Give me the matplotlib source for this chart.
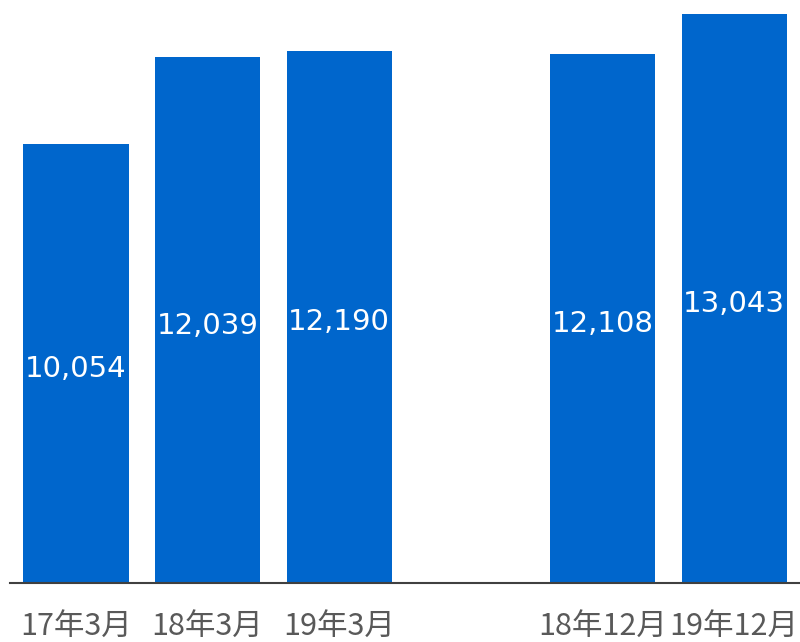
import numpy as np
import matplotlib
matplotlib.use("Agg")
import matplotlib.pyplot as plt

# データ
categories = ['17年3月', '18年3月', '19年3月', '18年12月', '19年12月']
positions = [0, 1, 2, 4, 5]
values = [10054, 12039, 12190, 12108, 13043]

plt.rcParams['font.family'] = ['Noto Sans CJK JP', 'DejaVu Sans']

fig = plt.figure(figsize=(8, 6.42), dpi=100)
ax = fig.add_axes([10 / 800, 59 / 642, 790 / 800, 583 / 642])

bars = ax.bar(positions, values, width=0.8, color='#0066CC')

# 値ラベル（棒の中央）
for x, v in zip(positions, values):
    ax.annotate(f'{v:,}', (x, v / 2), xytext=(0, -4), textcoords='offset points',
                ha='center', va='center', color='white',
                fontsize=21, family=['DejaVu Sans'])

ax.set_xlim(-0.5, 5.5)
ax.set_ylim(0, 13353)
ax.set_xticks(positions)
ax.set_xticklabels(categories, fontsize=22, color='#595959')
ax.tick_params(axis='x', length=0, pad=20)
ax.set_yticks([])

for s in ['top', 'right', 'left']:
    ax.spines[s].set_visible(False)
ax.spines['bottom'].set_color('#404040')
ax.spines['bottom'].set_linewidth(1.5)

fig.savefig('out.png', dpi=100)
